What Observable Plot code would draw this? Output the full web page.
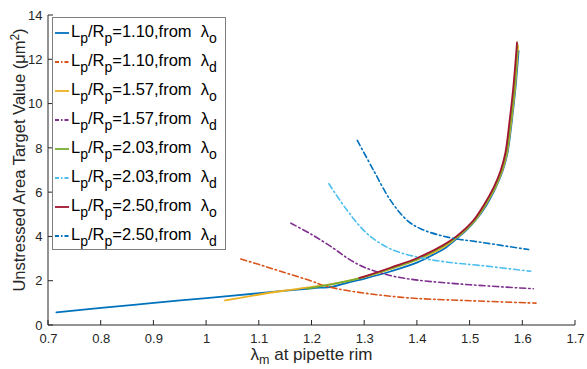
<!DOCTYPE html>
<html><head><meta charset="utf-8">
<script src="https://cdn.jsdelivr.net/npm/d3@7"></script>
<script src="https://cdn.jsdelivr.net/npm/@observablehq/plot@0.6"></script>
<style>body{margin:0;background:#fff;} svg{font-family:"Liberation Sans",Arial,sans-serif;}</style>
</head><body><div id="chart"></div>
<script>
const xTicks = [0.7,0.8,0.9,1,1.1,1.2,1.3,1.4,1.5,1.6,1.7];
const yTicks = [0,2,4,6,8,10,12,14];
const ratios = ["1.10","1.10","1.57","1.57","2.03","2.03","2.50","2.50"];
const sources = ["o","d","o","d","o","d","o","d"];
const colors = ["#0072BD","#D95319","#EDB120","#7E2F8E","#77AC30","#4DBEEE","#A2142F","#0072BD"];
const styles = ["solid","dash","solid","dash","solid","dash","solid","dash"];

const s1 = [[0.715,0.59],[0.8,0.80],[0.9,1.02],[1.0,1.24],[1.1,1.46],[1.2,1.68],[1.24,1.76],[1.27,1.95],[1.3,2.12],[1.35,2.45],[1.4,2.85],[1.43,3.2],[1.45,3.45],[1.476,3.95],[1.495,4.35],[1.51,4.74],[1.53,5.4],[1.549,6.25],[1.562,7.0],[1.571,7.8],[1.579,9.2],[1.586,10.7],[1.592,12.4]];
const s2 = [[1.065,3.0],[1.1,2.75],[1.14,2.45],[1.2,2.0],[1.22,1.82],[1.25,1.65],[1.3,1.46],[1.35,1.32],[1.4,1.22],[1.5,1.12],[1.625,1.01]];
const s3 = [[1.035,1.13],[1.1,1.40],[1.15,1.58],[1.2,1.74],[1.25,1.93],[1.3,2.2],[1.35,2.56],[1.4,2.97],[1.45,3.55],[1.475,3.97],[1.493,4.35],[1.509,4.74],[1.528,5.4],[1.548,6.25],[1.561,7.0],[1.57,7.8],[1.578,9.2],[1.585,10.7],[1.591,12.6]];
const s4 = [[1.16,4.62],[1.2,4.1],[1.24,3.5],[1.27,3.0],[1.3,2.62],[1.35,2.25],[1.4,2.05],[1.5,1.84],[1.62,1.66]];
const s5 = [[1.19,1.66],[1.25,1.92],[1.3,2.2],[1.35,2.58],[1.4,3.0],[1.45,3.6],[1.474,3.98],[1.492,4.35],[1.508,4.74],[1.527,5.4],[1.547,6.25],[1.56,7.0],[1.569,7.8],[1.577,9.2],[1.584,10.7],[1.590,12.7]];
const s6 = [[1.232,6.4],[1.267,5.19],[1.305,4.14],[1.349,3.46],[1.40,3.09],[1.457,2.86],[1.52,2.71],[1.615,2.45]];
const s7 = [[1.29,2.15],[1.3,2.22],[1.35,2.62],[1.4,3.05],[1.45,3.65],[1.472,3.99],[1.49,4.35],[1.506,4.74],[1.525,5.4],[1.545,6.25],[1.558,7.0],[1.567,7.8],[1.575,9.26],[1.582,10.76],[1.589,12.78]];
const s8 = [[1.286,8.36],[1.317,7.0],[1.349,5.65],[1.381,4.74],[1.406,4.37],[1.457,3.99],[1.52,3.76],[1.611,3.43]];
const series = [s1,s2,s3,s4,s5,s6,s7,s8];

const dashArr = "6,3,1.5,3";
const lineMarks = series.map((s,i) => Plot.line(s, {x: d=>d[0], y: d=>d[1], stroke: colors[i], strokeWidth: styles[i]==="solid"?1.8:1.6, strokeDasharray: styles[i]==="solid"?null:dashArr, curve: "catmull-rom"}));

const plot = Plot.plot({
  width: 587, height: 369,
  marginLeft: 48, marginRight: 12, marginTop: 15, marginBottom: 44,
  x: {domain:[0.7,1.7], ticks: xTicks},
  y: {domain:[0,14], ticks: yTicks},
  style: {fontFamily: '"Liberation Sans",Arial,sans-serif', color:"#262626", background:"#fff"},
  marks: [
    Plot.axisX(xTicks, {tickSize: 0, tickPadding: 8, fontSize: 13, fill:"#262626", label: null, tickFormat: d=>String(d)}),
    Plot.axisY(yTicks, {tickSize: 0, tickPadding: 6, fontSize: 13, fill:"#262626", label: null}),
    ...lineMarks
  ]
});
document.getElementById("chart").appendChild(plot);

const svg = d3.select(plot);
const xs = plot.scale("x"), ys = plot.scale("y");
const X0 = xs.apply(0.7), X1 = xs.apply(1.7), Y0 = ys.apply(0), Y1 = ys.apply(14);
const g = svg.append("g").attr("stroke","#262626").attr("stroke-width",1);
g.append("line").attr("x1",X0).attr("x2",X1).attr("y1",Y0).attr("y2",Y0);
g.append("line").attr("x1",X0).attr("x2",X0).attr("y1",Y0).attr("y2",Y1);
xTicks.forEach(t => g.append("line").attr("x1",xs.apply(t)).attr("x2",xs.apply(t)).attr("y1",Y0).attr("y2",Y0-5));
yTicks.forEach(t => g.append("line").attr("x1",X0).attr("x2",X0+5).attr("y1",ys.apply(t)).attr("y2",ys.apply(t)));

// axis labels
const xl = svg.append("text").attr("x",(X0+X1)/2).attr("y",360).attr("text-anchor","middle").attr("font-size",17).attr("fill","#262626");
xl.append("tspan").text("λ");
xl.append("tspan").attr("dy",4).attr("font-size",12.5).text("m");
xl.append("tspan").attr("dy",-4).text(" at pipette rim");
const yl = svg.append("text").attr("transform",`translate(25,160) rotate(-90)`).attr("text-anchor","middle").attr("font-size",16.5).attr("fill","#262626");
yl.append("tspan").text("Unstressed Area Target Value (μm");
yl.append("tspan").attr("dy",-6).attr("font-size",12).text("2");
yl.append("tspan").attr("dy",6).text(")");

// legend
const lg = svg.append("g");
lg.append("rect").attr("x",52.5).attr("y",17.5).attr("width",173).attr("height",232).attr("fill","#fff").attr("stroke","#7f7f7f").attr("stroke-width",1);
ratios.forEach((r,i) => {
  const cy = 33 + i*29;
  lg.append("line").attr("x1",55).attr("x2",69).attr("y1",cy).attr("y2",cy).attr("stroke",colors[i]).attr("stroke-width",1.8)
    .attr("stroke-dasharray", styles[i]==="solid"?null:"4,2,1.5,2");
  const t = lg.append("text").attr("x",71).attr("y",cy+4).attr("text-anchor","start").attr("font-size",16.5).attr("fill","#000");
  t.append("tspan").text("L");
  t.append("tspan").attr("dy",6).attr("font-size",14).text("p");
  t.append("tspan").attr("dy",-6).text("/R");
  t.append("tspan").attr("dy",6).attr("font-size",14).text("p");
  t.append("tspan").attr("dy",-6).text("="+r+",from  λ");
  t.append("tspan").attr("dy",6).attr("font-size",14).text(sources[i]);
});
</script></body></html>
